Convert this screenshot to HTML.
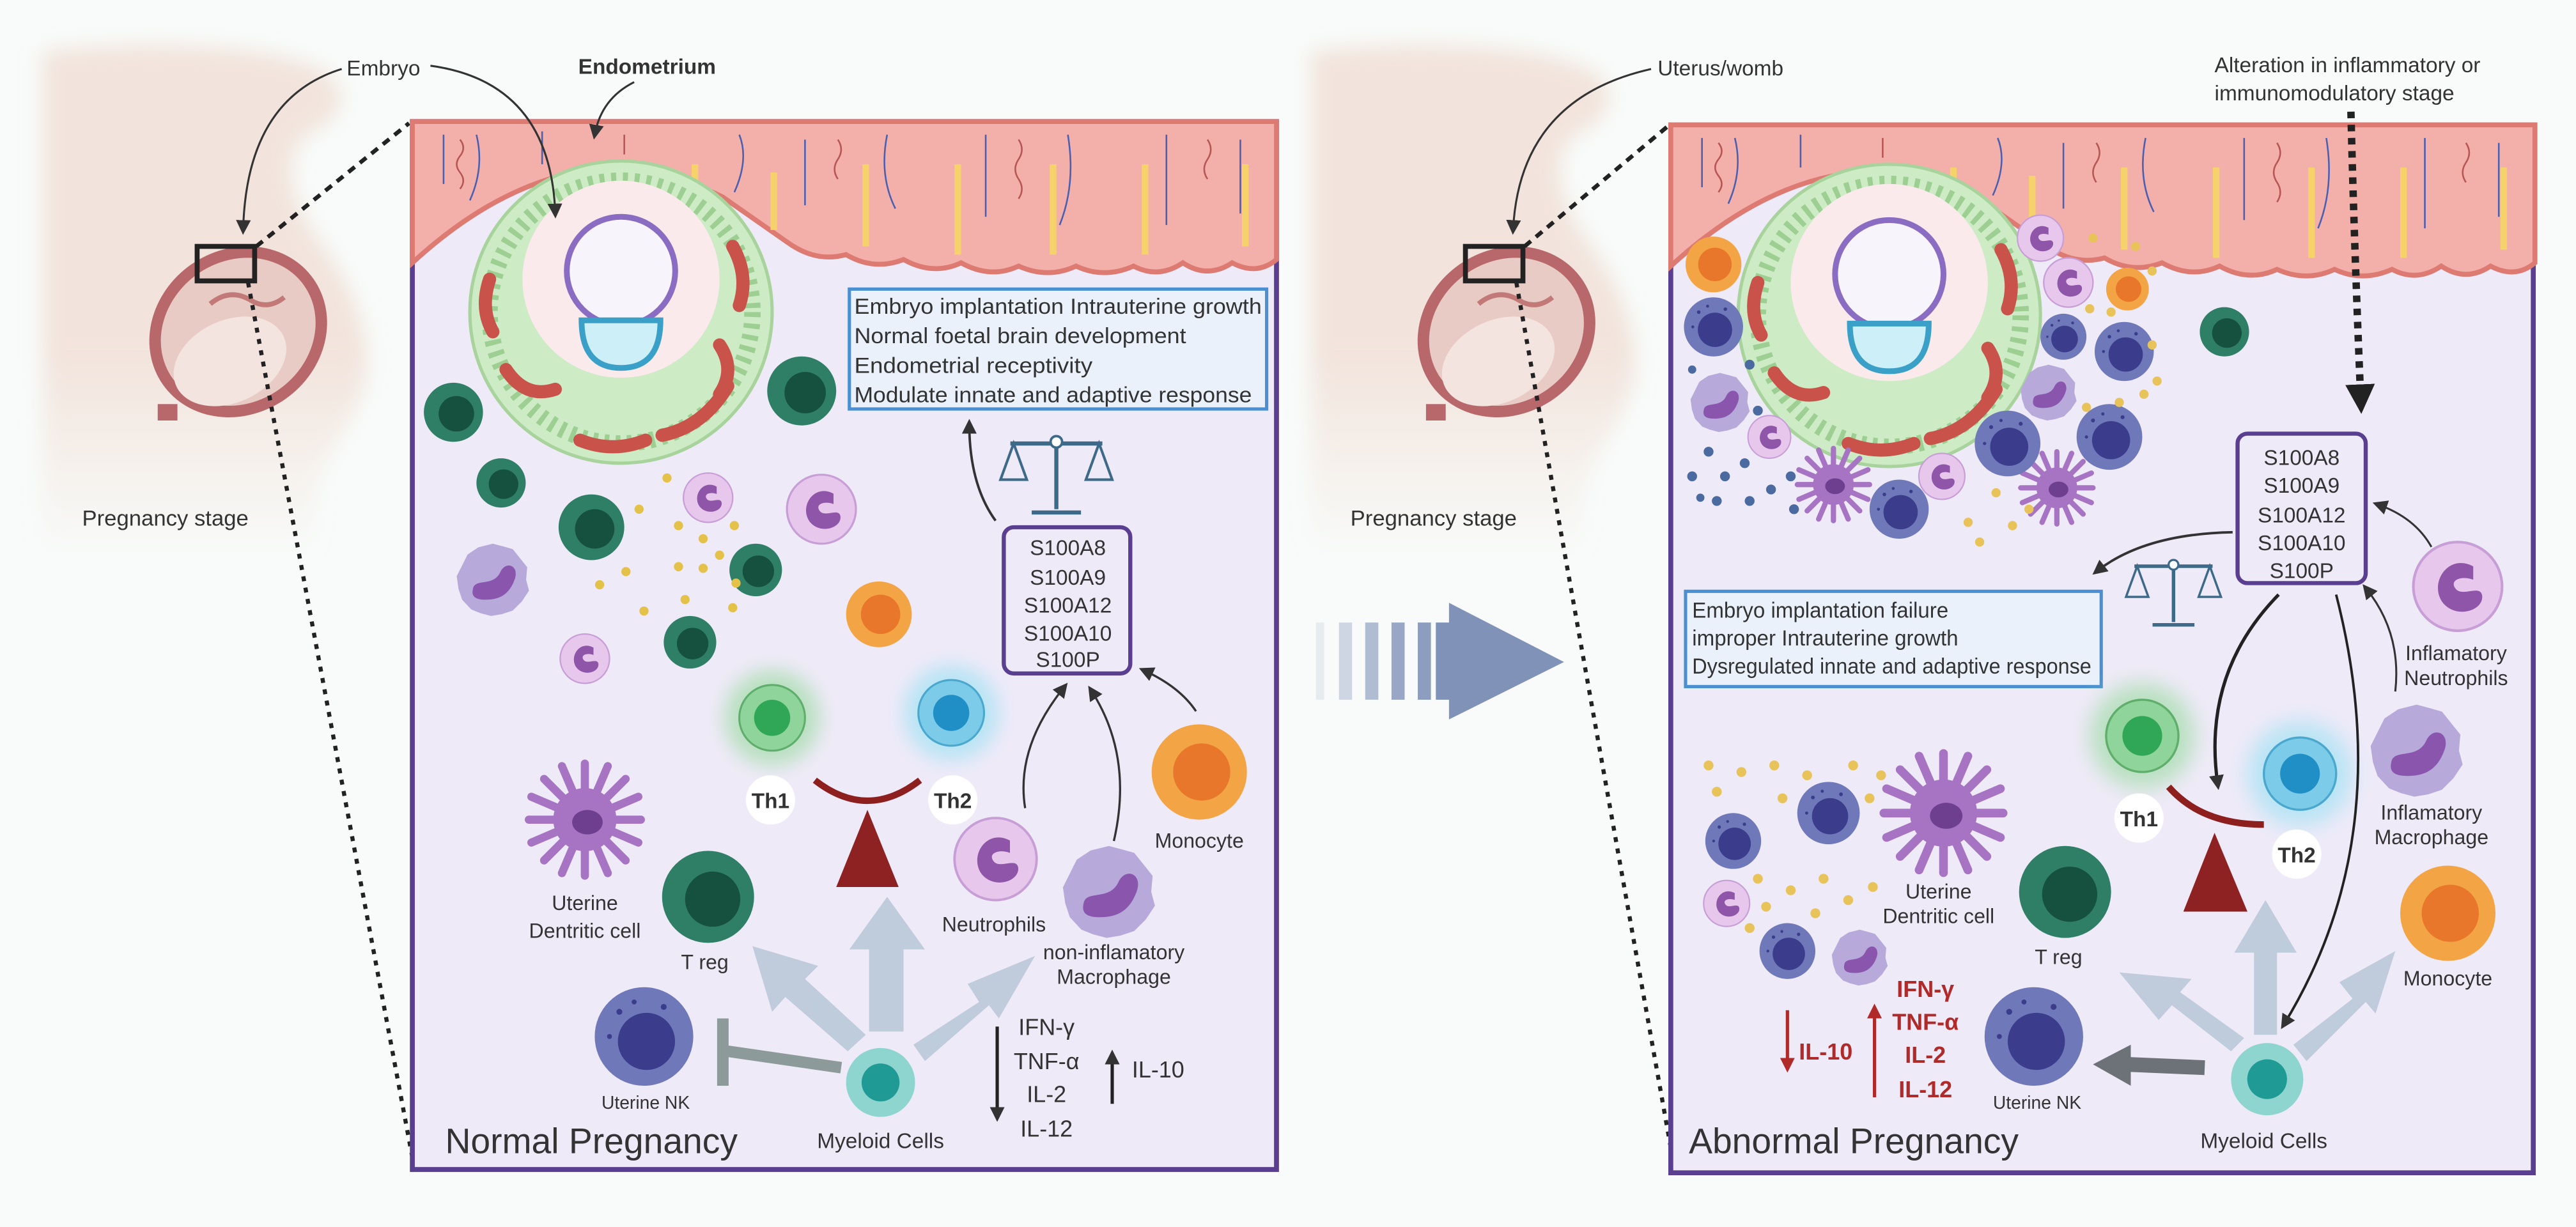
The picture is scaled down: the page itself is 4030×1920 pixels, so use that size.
<!DOCTYPE html>
<html><head><meta charset="utf-8"><style>
html,body{margin:0;padding:0;background:#f8fbfa;}
svg{display:block;}
text{font-family:"Liberation Sans",Arial,sans-serif;fill:#333;}
</style></head><body>
<svg width="4030" height="1920" viewBox="0 0 1568 747" preserveAspectRatio="none" xmlns="http://www.w3.org/2000/svg">
<defs>
 <filter id="gl" x="-100%" y="-100%" width="300%" height="300%"><feGaussianBlur stdDeviation="0.3"/></filter>
 <filter id="blur4" x="-50%" y="-50%" width="200%" height="200%"><feGaussianBlur stdDeviation="6"/></filter>
 <linearGradient id="fade" x1="0" y1="0" x2="0" y2="1"><stop offset="0.6" stop-color="#f2e4dc"/><stop offset="1" stop-color="#f2e4dc" stop-opacity="0"/></linearGradient>
 <g id="nk"><circle r="1" fill="#6f78b8"/><circle cx="0.05" cy="0.1" r="0.58" fill="#3b3c8c"/><circle cx="-0.5" cy="-0.5" r="0.06" fill="#3b3c8c"/><circle cx="-0.2" cy="-0.7" r="0.05" fill="#3b3c8c"/><circle cx="0.4" cy="-0.6" r="0.06" fill="#3b3c8c"/><circle cx="-0.7" cy="0" r="0.05" fill="#3b3c8c"/></g>
 <g id="dg"><circle r="1" fill="#2f7f66"/><circle cx="0.1" cy="0.05" r="0.6" fill="#16503f"/></g>
 <g id="neu"><circle r="1" fill="#e7c8ec" stroke="#c79ed6" stroke-width="0.06"/><path d="M0.35,-0.45 C-0.2,-0.75 -0.65,-0.1 -0.35,0.35 C-0.05,0.75 0.6,0.55 0.55,0.2 C0.5,-0.05 0.1,0.25 -0.05,0.05 C-0.2,-0.15 0.1,-0.25 0.35,-0.15 Z" fill="#8e55a8"/></g>
 <g id="mac"><path d="M0,-1 L0.3,-0.92 0.55,-0.85 0.75,-0.6 0.95,-0.35 0.92,0 1,0.3 0.8,0.6 0.55,0.85 0.25,0.95 -0.05,1 -0.35,0.92 -0.6,0.82 -0.85,0.55 -0.95,0.25 -1,-0.1 -0.85,-0.4 -0.7,-0.7 -0.4,-0.9 Z" fill="#b7a9da"/><path d="M-0.55,0.25 C-0.5,-0.05 0,0.2 0.2,-0.2 C0.35,-0.55 0.75,-0.4 0.6,0 C0.45,0.4 0.2,0.55 -0.2,0.55 C-0.5,0.55 -0.6,0.45 -0.55,0.25Z" fill="#8a55ad"/></g>
 <g id="mono"><circle r="1" fill="#f3a545"/><circle cx="0.05" cy="0" r="0.6" fill="#e9772b"/></g>
 <g id="mye"><circle r="1" fill="#8fd5cf"/><circle r="0.55" fill="#1f9a95"/></g>
 <g id="dc"><g stroke="#a774c4" stroke-width="0.16" stroke-linecap="round" fill="none">
  <path d="M0,0 L0,-1.1 M0,0 L0.8,-0.8 M0,0 L1.1,0 M0,0 L0.8,0.8 M0,0 L0,1.1 M0,0 L-0.8,0.8 M0,0 L-1.1,0 M0,0 L-0.8,-0.8 M0,0 L0.45,-1.05 M0,0 L1.05,0.45 M0,0 L-0.45,1.05 M0,0 L-1.05,-0.45 M0,0 L-0.45,-1.05 M0,0 L1.05,-0.45 M0,0 L0.45,1.05 M0,0 L-1.05,0.45"/></g>
  <circle r="0.62" fill="#a774c4"/><ellipse cx="0.05" cy="0.05" rx="0.3" ry="0.24" fill="#6e3f8e"/></g>
 <g id="th1"><circle r="1.45" fill="#9fdca6" filter="url(#gl)" opacity="0.7"/><circle r="1" fill="#8fd49a" stroke="#5fae6c" stroke-width="0.06"/><circle r="0.55" fill="#2fa757"/></g>
 <g id="th2"><circle r="1.45" fill="#9fe2f3" filter="url(#gl)" opacity="0.7"/><circle r="1" fill="#7ccbe9" stroke="#4aa8cf" stroke-width="0.06"/><circle r="0.55" fill="#1f8fc6"/></g>
 <g id="scale"><g stroke="#3d6a88" stroke-width="2.5" fill="none"><line x1="0" y1="-20" x2="0" y2="22"/><line x1="-28" y1="-18" x2="28" y2="-18"/><line x1="-15" y1="24" x2="15" y2="24"/><path d="M-26,-18 L-34,4 H-18 Z M26,-18 L18,4 H34 Z" stroke-width="1.6"/></g><circle cx="0" cy="-19" r="3.5" fill="#fff" stroke="#3d6a88" stroke-width="1.5"/></g>
 <marker id="ah" markerWidth="9" markerHeight="9" refX="6" refY="4.5" orient="auto" markerUnits="userSpaceOnUse"><path d="M0,0 L9,4.5 L0,9 Z" fill="#333"/></marker>
 <marker id="ahr" markerWidth="9" markerHeight="9" refX="6" refY="4.5" orient="auto" markerUnits="userSpaceOnUse"><path d="M0,0 L9,4.5 L0,9 Z" fill="#b02a2a"/></marker>
 <marker id="ahb" markerWidth="18" markerHeight="18" refX="10" refY="9" orient="auto" markerUnits="userSpaceOnUse"><path d="M0,0 L18,9 L0,18 Z" fill="#222"/></marker>
 <g id="body">
  <path d="M26,31 C80,25 170,25 200,45 C215,58 205,75 190,80 C175,90 172,110 190,140 C212,170 228,200 222,235 C214,262 198,272 192,300 L190,340 L26,340 Z" fill="url(#fade)" filter="url(#blur4)"/>
  <ellipse cx="145" cy="202" rx="56" ry="50" transform="rotate(-35 145 202)" fill="#b8686b"/>
  <ellipse cx="145" cy="202" rx="49" ry="43" transform="rotate(-35 145 202)" fill="#e8cbc5"/>
  <ellipse cx="140" cy="220" rx="36" ry="25" transform="rotate(-25 140 220)" fill="#f4e4e0"/>
  <path d="M128,185 q12,-10 25,-2 q10,6 20,-2" stroke="#c27a78" stroke-width="3" fill="none"/>
  <rect x="96" y="246" width="12" height="10" fill="#b8686b"/>
 </g>
 <g id="endo">
  <path d="M251,74 H777 V158 Q765,168 750,160 Q735,170 720,160 Q705,170 690,162 Q672,170 655,162 Q638,170 620,162 Q603,170 585,160 Q568,168 550,158 Q532,165 515,155 Q497,160 480,148 L440,120 Q400,100 350,105 Q300,115 251,160 Z" fill="#f3b0aa" stroke="#dd7a72" stroke-width="3"/>
  <g stroke="#4a5fb0" stroke-width="1" fill="none">
   <path d="M270,82 v30 M290,82 q5,20 -4,40 M330,80 v20 M450,82 q6,15 -3,35 M490,85 v40 M540,82 q-5,25 5,45 M600,82 v50 M650,82 q5,30 -5,55 M710,82 v55 M755,85 v45"/></g>
  <g stroke="#b85555" stroke-width="1" fill="none">
   <path d="M280,85 q4,5 0,10 q-4,5 0,10 q4,5 0,10 M380,82 v12 M510,85 q4,6 0,12 q-4,6 0,12 M620,85 q4,6 0,12 q-4,6 0,12 q4,6 0,12 M735,85 q4,6 0,12 q-4,6 0,12"/></g>
  <g stroke="#f5d36a" stroke-width="4" fill="none">
   <path d="M423,100 v20 M471,105 v35 M527,100 v50 M583,100 v55 M641,100 v55 M697,100 v55 M758,100 v50"/></g>
 </g>
 <g id="emb">
  <circle r="92" fill="#cdebc4" stroke="#a8d39c" stroke-width="2"/>
  <circle r="80" fill="none" stroke="#9dcf93" stroke-width="10" stroke-dasharray="3 4"/>
  <circle cy="-20" r="60" fill="#faeaec"/>
  <circle cy="-25" r="33" fill="#f7f4fb" stroke="#8a6cc2" stroke-width="3.5"/>
  <path d="M-24,5 H24 Q24,34 0,34 Q-24,34 -24,5Z" fill="#cdeff8" stroke="#3aa0c8" stroke-width="3.5"/>
  <path d="M-70,35 q12,18 30,12 M25,75 q25,-5 40,-30 M-25,78 q20,8 40,0 M68,-40 q10,18 4,36 M-80,-20 q-6,18 2,32 M60,20 q10,15 0,30" stroke="#c9534b" stroke-width="8" fill="none" stroke-linecap="round"/>
 </g>
</defs>

<!-- LEFT SILHOUETTE -->
<use href="#body"/>
<rect x="120" y="150" width="35" height="21" fill="none" stroke="#222" stroke-width="3"/>
<line x1="156" y1="150" x2="249" y2="75" stroke="#222" stroke-width="2.5" stroke-dasharray="5 4"/>
<line x1="151" y1="172" x2="252" y2="710" stroke="#222" stroke-width="2.5" stroke-dasharray="3 4"/>
<text x="211" y="46" font-size="13">Embryo</text>
<path d="M208,42 Q150,60 148,140" stroke="#333" stroke-width="1.2" fill="none" marker-end="url(#ah)"/>
<text x="50" y="320" font-size="13.5">Pregnancy stage</text>

<!-- LEFT PANEL -->
<rect x="251" y="74" width="526" height="638" fill="#efeaf8" stroke="#5a3f90" stroke-width="3"/>
<use href="#endo"/>
<use href="#emb" transform="translate(378,190)"/>
<text x="352" y="45" font-size="13" font-weight="bold">Endometrium</text>
<path d="M386,50 Q366,60 362,82" stroke="#333" stroke-width="1.2" fill="none" marker-end="url(#ah)"/>
<path d="M262,40 Q335,50 338,130" stroke="#333" stroke-width="1.2" fill="none" marker-end="url(#ah)"/>

<rect x="517" y="176" width="254" height="73" fill="#eaf1fb" stroke="#4a90d0" stroke-width="2"/>
<text font-size="13.5" x="520" y="191" textLength="248" lengthAdjust="spacingAndGlyphs">Embryo implantation Intrauterine growth</text>
<text font-size="13.5" x="520" y="209" textLength="202" lengthAdjust="spacingAndGlyphs">Normal foetal brain development</text>
<text font-size="13.5" x="520" y="227" textLength="145" lengthAdjust="spacingAndGlyphs">Endometrial receptivity</text>
<text font-size="13.5" x="520" y="245" textLength="242" lengthAdjust="spacingAndGlyphs">Modulate innate and adaptive response</text>
<use href="#scale" transform="translate(643,288)"/>
<path d="M606,317 Q590,295 590,258" stroke="#333" stroke-width="1.5" fill="none" marker-end="url(#ah)"/>
<rect x="611" y="321" width="77" height="89" rx="6" fill="#eeeaf8" stroke="#5a3f90" stroke-width="2.5"/>
<g font-size="13" text-anchor="middle"><text x="650" y="338">S100A8</text><text x="650" y="356">S100A9</text><text x="650" y="373">S100A12</text><text x="650" y="390">S100A10</text><text x="650" y="406">S100P</text></g>

<use href="#dg" transform="translate(276,251) scale(18)"/>
<use href="#dg" transform="translate(488,238) scale(21)"/>
<use href="#dg" transform="translate(305,294) scale(15)"/>
<use href="#dg" transform="translate(360,321) scale(20)"/>
<use href="#dg" transform="translate(460,347) scale(16)"/>
<use href="#dg" transform="translate(420,391) scale(16)"/>
<use href="#neu" transform="translate(431,303) scale(15)"/>
<use href="#neu" transform="translate(500,310) scale(21)"/>
<use href="#neu" transform="translate(356,401) scale(15)"/>
<use href="#mac" transform="translate(300,353) scale(22)"/>
<use href="#mono" transform="translate(535,374) scale(20)"/>
<g fill="#e4c24a"><circle cx="406" cy="291" r="2.8"/><circle cx="389" cy="310" r="2.8"/><circle cx="413" cy="320" r="2.8"/><circle cx="428" cy="328" r="2.8"/><circle cx="447" cy="320" r="2.8"/><circle cx="438" cy="338" r="2.8"/><circle cx="413" cy="345" r="2.8"/><circle cx="381" cy="348" r="2.8"/><circle cx="365" cy="356" r="2.8"/><circle cx="428" cy="346" r="2.8"/><circle cx="448" cy="355" r="2.8"/><circle cx="392" cy="372" r="2.8"/><circle cx="417" cy="365" r="2.8"/><circle cx="446" cy="370" r="2.8"/></g>

<use href="#th1" transform="translate(470,437) scale(20)"/>
<use href="#th2" transform="translate(579,434) scale(20)"/>
<circle cx="469" cy="487" r="15" fill="#fff"/><text x="469" y="492" font-size="13" text-anchor="middle" font-weight="bold">Th1</text>
<circle cx="580" cy="487" r="15" fill="#fff"/><text x="580" y="492" font-size="13" text-anchor="middle" font-weight="bold">Th2</text>
<path d="M496,475 Q528,500 560,475" stroke="#8e1f1f" stroke-width="4" fill="none"/>
<path d="M528,493 L509,540 H547 Z" fill="#8e2222"/>

<use href="#dc" transform="translate(356,499) scale(31)"/>
<text x="356" y="554" font-size="12.5" text-anchor="middle">Uterine</text>
<text x="356" y="571" font-size="12.5" text-anchor="middle">Dentritic cell</text>
<use href="#dg" transform="translate(431,546) scale(28)"/>
<text x="429" y="590" font-size="12.5" text-anchor="middle">T reg</text>
<use href="#neu" transform="translate(606,523) scale(25)"/>
<text x="605" y="567" font-size="12.5" text-anchor="middle">Neutrophils</text>
<use href="#mac" transform="translate(675,543) scale(28)"/>
<text x="678" y="584" font-size="12.5" text-anchor="middle">non-inflamatory</text>
<text x="678" y="599" font-size="12.5" text-anchor="middle">Macrophage</text>
<use href="#mono" transform="translate(730,470) scale(29)"/>
<text x="730" y="516" font-size="12.5" text-anchor="middle">Monocyte</text>
<path d="M624,492 Q618,455 648,418" stroke="#333" stroke-width="1.3" fill="none" marker-end="url(#ah)"/>
<path d="M678,512 Q690,460 664,420" stroke="#333" stroke-width="1.3" fill="none" marker-end="url(#ah)"/>
<path d="M728,433 Q718,418 696,408" stroke="#333" stroke-width="1.3" fill="none" marker-end="url(#ah)"/>

<use href="#nk" transform="translate(392,631) scale(30)"/>
<text x="393" y="675" font-size="11" text-anchor="middle">Uterine NK</text>
<use href="#mye" transform="translate(536,659) scale(21)"/>
<text x="536" y="699" font-size="13" text-anchor="middle">Myeloid Cells</text>
<g fill="#b7c7d6" opacity="0.85">
 <path d="M516,640 L478,607 L470,616 L458,576 L498,588 L490,596 L527,630Z"/>
 <path d="M529,628 V578 H517 L540,546 L563,578 H550 V628Z"/>
 <path d="M556,636 L596,610 L589,599 L630,582 L608,620 L602,612 L563,646Z"/>
</g>
<path d="M512,650 L443,640" stroke="#8c9a9a" stroke-width="7"/>
<path d="M440,620 V661" stroke="#8c9a9a" stroke-width="7"/>
<g font-size="14" text-anchor="middle"><text x="637" y="630">IFN-γ</text><text x="637" y="651">TNF-α</text><text x="637" y="671">IL-2</text><text x="637" y="692">IL-12</text></g>
<path d="M607,625 V680" stroke="#222" stroke-width="2" marker-end="url(#ah)"/>
<path d="M677,672 V642" stroke="#222" stroke-width="2" marker-end="url(#ah)"/>
<text x="689" y="656" font-size="14">IL-10</text>
<text x="271" y="702" font-size="21.5">Normal Pregnancy</text>

<!-- RIGHT SILHOUETTE -->
<use href="#body" transform="translate(772,0)"/>
<rect x="892" y="150" width="35" height="21" fill="none" stroke="#222" stroke-width="3"/>
<line x1="928" y1="150" x2="1015" y2="77" stroke="#222" stroke-width="2.5" stroke-dasharray="5 4"/>
<line x1="923" y1="172" x2="1019" y2="710" stroke="#222" stroke-width="2.5" stroke-dasharray="3 4"/>
<text x="1009" y="46" font-size="13">Uterus/womb</text>
<path d="M1005,42 Q925,60 921,140" stroke="#333" stroke-width="1.2" fill="none" marker-end="url(#ah)"/>
<text x="822" y="320" font-size="13.5">Pregnancy stage</text>
<text x="1348" y="44" font-size="13">Alteration in inflammatory or</text>
<text x="1348" y="61" font-size="13">immunomodulatory stage</text>

<!-- MIDDLE ARROW -->
<g fill="#8092b8">
 <rect x="801" y="379" width="5" height="47" opacity="0.15"/><rect x="815" y="379" width="8" height="47" opacity="0.35"/><rect x="831" y="379" width="8" height="47" opacity="0.6"/><rect x="847" y="379" width="8" height="47" opacity="0.8"/><rect x="863" y="379" width="8" height="47" opacity="0.9"/><rect x="874" y="379" width="9" height="47"/>
</g>
<path d="M882,367 L952,403 L882,438 Z" fill="#8092b8"/>

<!-- RIGHT PANEL -->
<rect x="1017" y="76" width="525" height="638" fill="#efeaf8" stroke="#5a3f90" stroke-width="3"/>
<use href="#endo" transform="translate(766,2)"/>
<use href="#emb" transform="translate(1150,192)"/>

<use href="#mono" transform="translate(1043,161) scale(17)"/>
<use href="#nk" transform="translate(1043,199) scale(18)"/>
<use href="#mac" transform="translate(1047,245) scale(18)"/>
<use href="#neu" transform="translate(1077,266) scale(13)"/>
<use href="#dc" transform="translate(1116,295) scale(20)"/>
<use href="#nk" transform="translate(1156,310) scale(18)"/>
<use href="#neu" transform="translate(1182,290) scale(14)"/>
<use href="#dc" transform="translate(1252,297) scale(20)"/>
<use href="#nk" transform="translate(1222,270) scale(20)"/>
<use href="#nk" transform="translate(1284,266) scale(20)"/>
<use href="#mac" transform="translate(1247,239) scale(17)"/>
<use href="#nk" transform="translate(1256,205) scale(14)"/>
<use href="#nk" transform="translate(1293,214) scale(18)"/>
<use href="#neu" transform="translate(1242,145) scale(14)"/>
<use href="#neu" transform="translate(1259,172) scale(15)"/>
<use href="#mono" transform="translate(1295,176) scale(13)"/>
<use href="#dg" transform="translate(1354,202) scale(15)"/>
<g fill="#e7c35a"><circle cx="1274" cy="145" r="2.8"/><circle cx="1300" cy="150" r="2.8"/><circle cx="1310" cy="165" r="2.8"/><circle cx="1285" cy="190" r="2.8"/><circle cx="1272" cy="188" r="2.8"/><circle cx="1313" cy="232" r="2.8"/><circle cx="1305" cy="240" r="2.8"/><circle cx="1290" cy="245" r="2.8"/><circle cx="1270" cy="248" r="2.8"/><circle cx="1198" cy="318" r="2.8"/><circle cx="1215" cy="300" r="2.8"/><circle cx="1225" cy="320" r="2.8"/><circle cx="1205" cy="330" r="2.8"/><circle cx="1235" cy="310" r="2.8"/><circle cx="1310" cy="210" r="2.8"/></g>
<g fill="#4a6aa0"><circle cx="1030" cy="225" r="2.5"/><circle cx="1040" cy="275" r="3"/><circle cx="1030" cy="290" r="3"/><circle cx="1050" cy="290" r="3"/><circle cx="1062" cy="282" r="3"/><circle cx="1078" cy="298" r="3"/><circle cx="1045" cy="305" r="3"/><circle cx="1065" cy="305" r="3"/><circle cx="1090" cy="290" r="3"/><circle cx="1092" cy="310" r="3"/><circle cx="1035" cy="303" r="2.5"/><circle cx="1065" cy="222" r="3"/><circle cx="1070" cy="250" r="3"/></g>

<path d="M1431,68 Q1433,150 1437,244" stroke="#222" stroke-width="4.5" stroke-dasharray="4 4" fill="none" marker-end="url(#ahb)"/>
<rect x="1362" y="264" width="78" height="91" rx="6" fill="#eeeaf8" stroke="#5a3f90" stroke-width="2.5"/>
<g font-size="13" text-anchor="middle"><text x="1401" y="283">S100A8</text><text x="1401" y="300">S100A9</text><text x="1401" y="318">S100A12</text><text x="1401" y="335">S100A10</text><text x="1401" y="352">S100P</text></g>
<use href="#scale" transform="translate(1323,360) scale(0.85)"/>
<path d="M1359,324 Q1305,325 1276,348" stroke="#333" stroke-width="1.5" fill="none" marker-end="url(#ah)"/>
<rect x="1026" y="360" width="253" height="58" fill="#eaf1fb" stroke="#4a90d0" stroke-width="2"/>
<text font-size="13.5" x="1030" y="376" textLength="156" lengthAdjust="spacingAndGlyphs">Embryo implantation failure</text>
<text font-size="13.5" x="1030" y="393" textLength="162" lengthAdjust="spacingAndGlyphs">improper Intrauterine growth</text>
<text font-size="13.5" x="1030" y="410" textLength="243" lengthAdjust="spacingAndGlyphs">Dysregulated innate and adaptive response</text>

<use href="#neu" transform="translate(1496,357) scale(27)"/>
<text x="1495" y="402" font-size="12.5" text-anchor="middle">Inflamatory</text>
<text x="1495" y="417" font-size="12.5" text-anchor="middle">Neutrophils</text>
<path d="M1480,333 Q1470,315 1447,307" stroke="#333" stroke-width="1.2" fill="none" marker-end="url(#ah)"/>
<use href="#mac" transform="translate(1471,457) scale(28)"/>
<text x="1480" y="499" font-size="12.5" text-anchor="middle">Inflamatory</text>
<text x="1480" y="514" font-size="12.5" text-anchor="middle">Macrophage</text>
<path d="M1458,421 Q1462,385 1440,358" stroke="#333" stroke-width="1.2" fill="none" marker-end="url(#ah)"/>

<use href="#th1" transform="translate(1304,448) scale(22)"/>
<use href="#th2" transform="translate(1400,471) scale(22)"/>
<circle cx="1302" cy="498" r="15" fill="#fff"/><text x="1302" y="503" font-size="13" text-anchor="middle" font-weight="bold">Th1</text>
<circle cx="1398" cy="520" r="15" fill="#fff"/><text x="1398" y="525" font-size="13" text-anchor="middle" font-weight="bold">Th2</text>
<path d="M1320,479 Q1340,502 1378,502" stroke="#8e1f1f" stroke-width="4" fill="none"/>
<path d="M1348,507 L1329,555 H1368 Z" fill="#8e2222"/>
<path d="M1387,362 Q1340,410 1350,478" stroke="#222" stroke-width="2" fill="none" marker-end="url(#ah)"/>
<path d="M1422,362 Q1460,510 1390,624" stroke="#222" stroke-width="1.5" fill="none" marker-end="url(#ah)"/>

<use href="#mono" transform="translate(1490,556) scale(29)"/>
<text x="1490" y="600" font-size="12.5" text-anchor="middle">Monocyte</text>
<use href="#dg" transform="translate(1257,543) scale(28)"/>
<text x="1253" y="587" font-size="12.5" text-anchor="middle">T reg</text>
<use href="#nk" transform="translate(1238,631) scale(30)"/>
<text x="1240" y="675" font-size="11" text-anchor="middle">Uterine NK</text>
<use href="#mye" transform="translate(1380,657) scale(22)"/>
<text x="1378" y="699" font-size="13" text-anchor="middle">Myeloid Cells</text>
<g fill="#b7c7d6" opacity="0.85">
 <path d="M1358,640 L1322,612 L1314,621 L1290,592 L1334,596 L1327,604 L1366,632Z"/>
 <path d="M1372,630 V580 H1360 L1379,548 L1398,580 H1386 V630Z"/>
 <path d="M1396,636 L1432,608 L1424,598 L1458,579 L1446,617 L1440,610 L1404,646Z"/>
</g>
<path d="M1342,650 L1295,648" stroke="#6d7278" stroke-width="9"/>
<path d="M1297,636 L1274,648 L1297,661Z" fill="#6d7278"/>

<use href="#dc" transform="translate(1183,495) scale(33)"/>
<text x="1180" y="547" font-size="12.5" text-anchor="middle">Uterine</text>
<text x="1180" y="562" font-size="12.5" text-anchor="middle">Dentritic cell</text>
<use href="#nk" transform="translate(1055,512) scale(17)"/>
<use href="#nk" transform="translate(1113,495) scale(19)"/>
<use href="#neu" transform="translate(1051,550) scale(14)"/>
<use href="#nk" transform="translate(1088,579) scale(17)"/>
<use href="#mac" transform="translate(1132,583) scale(17)"/>
<g fill="#e7c35a"><circle cx="1040" cy="466" r="3"/><circle cx="1060" cy="470" r="3"/><circle cx="1080" cy="466" r="3"/><circle cx="1100" cy="472" r="3"/><circle cx="1128" cy="466" r="3"/><circle cx="1145" cy="472" r="3"/><circle cx="1045" cy="482" r="3"/><circle cx="1085" cy="486" r="3"/><circle cx="1138" cy="486" r="3"/><circle cx="1070" cy="535" r="3"/><circle cx="1090" cy="542" r="3"/><circle cx="1110" cy="535" r="3"/><circle cx="1125" cy="548" r="3"/><circle cx="1075" cy="552" r="3"/><circle cx="1105" cy="556" r="3"/><circle cx="1140" cy="540" r="3"/><circle cx="1065" cy="565" r="3"/></g>

<path d="M1088,615 V650" stroke="#b02a2a" stroke-width="2" marker-end="url(#ahr)"/>
<text x="1095" y="645" font-size="14" font-weight="bold" style="fill:#b02a2a">IL-10</text>
<path d="M1141,668 V614" stroke="#b02a2a" stroke-width="2" marker-end="url(#ahr)"/>
<g font-size="14" font-weight="bold" text-anchor="middle"><text x="1172" y="607" style="fill:#b02a2a">IFN-γ</text><text x="1172" y="627" style="fill:#b02a2a">TNF-α</text><text x="1172" y="647" style="fill:#b02a2a">IL-2</text><text x="1172" y="668" style="fill:#b02a2a">IL-12</text></g>
<text x="1028" y="702" font-size="21.5">Abnormal Pregnancy</text>
</svg>
</body></html>
